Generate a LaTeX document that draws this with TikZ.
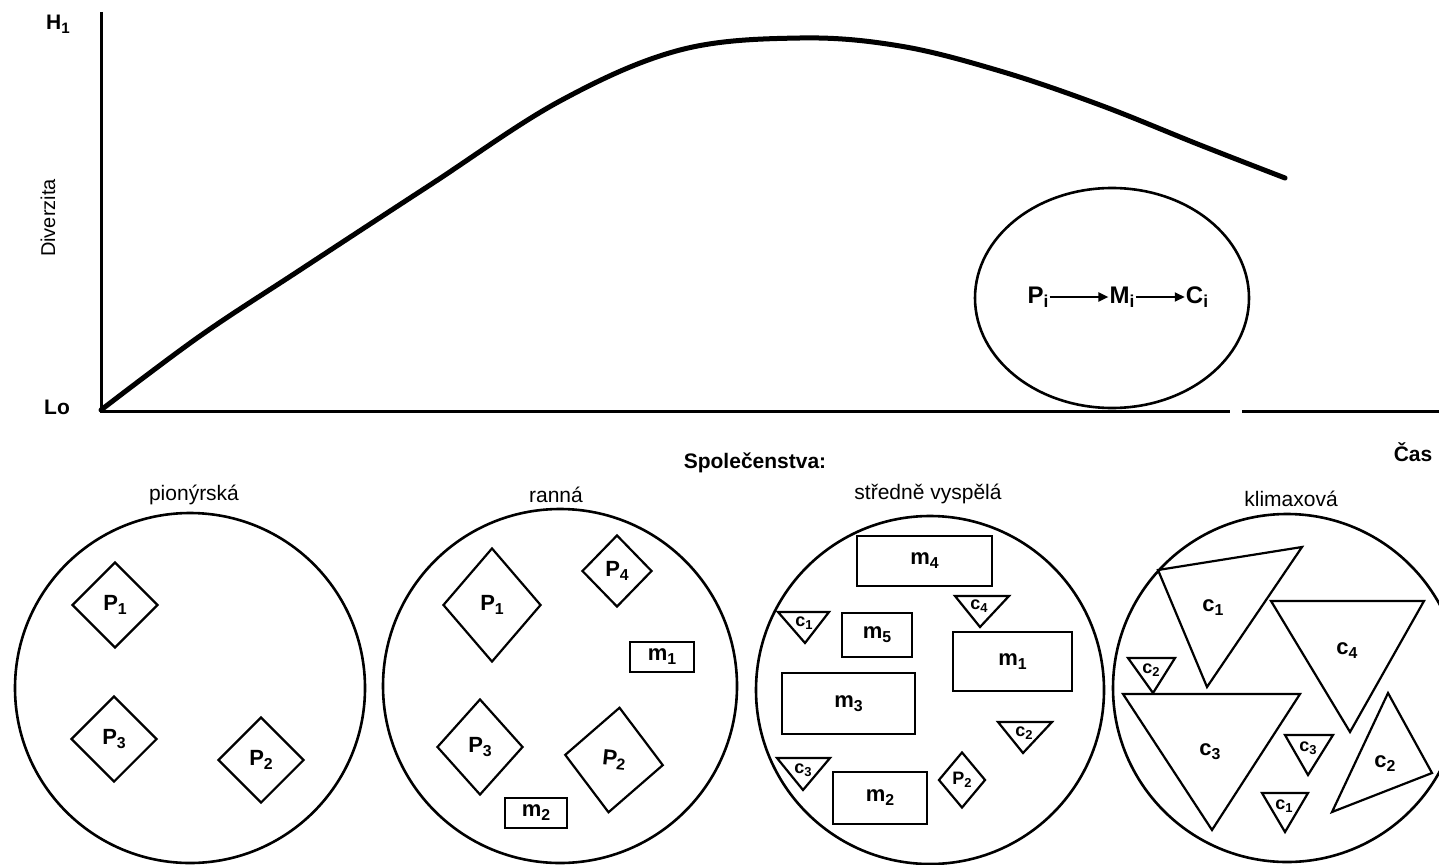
\documentclass[tikz,border=0pt]{standalone}
\usepackage{graphicx}
\usepackage{fontspec}
\setmainfont{Liberation Sans}
\usetikzlibrary{arrows.meta,shapes.geometric}
\newcommand{\lsub}[1]{\raisebox{-0.35ex}{\scalebox{0.72}{#1}}}
\begin{document}
\begin{tikzpicture}[x=1pt,y=-1pt,
  axis/.style={line width=3pt},
  ring/.style={draw,line width=2.6pt},
  shp/.style={draw,line width=2.2pt,line join=miter},
  dia/.style={shape=diamond,draw,line width=2.2pt,inner sep=0pt,font=\bfseries\fontsize{22}{22}\selectfont},
  box/.style={shape=rectangle,draw,line width=2.2pt,inner sep=0pt,font=\bfseries\fontsize{22}{22}\selectfont},
  lbl/.style={font=\bfseries\fontsize{22}{22}\selectfont,inner sep=0pt},
  slbl/.style={font=\bfseries\fontsize{18}{18}\selectfont,inner sep=0pt},
  captext/.style={font=\fontsize{21}{22}\selectfont,inner sep=0pt},
  flow/.style={line width=2pt,-{Triangle[length=10pt,width=9pt]}}
]
\useasboundingbox (0,0) rectangle (1439,864);
% axes
\coordinate (O) at (101,411);
\coordinate (Ytop) at (101,12);
\coordinate (Xgap1) at (1230,411);
\coordinate (Xgap2) at (1242,411);
\coordinate (Xend) at (1439,411);
\draw[axis] (Ytop) -- (O) -- (Xgap1);
\draw[axis] (Xgap2) -- (Xend);
\node[font=\bfseries\fontsize{21}{21}\selectfont] (hi) at (58,24) {H\lsub{1}};
\node[font=\bfseries\fontsize{21}{21}\selectfont] (lo) at (57,407) {Lo};
\node[font=\fontsize{20}{20}\selectfont,rotate=90] (div) at (48,218) {Diverzita};
\node[font=\bfseries\fontsize{21}{21}\selectfont] (cas) at (1413,452) {Čas};
% curve
\draw[line width=5pt,line cap=round] plot[smooth,tension=0.6] coordinates {(101,410) (200,336) (300,270) (430,185) (560,101) (680,50) (800,38) (900,46) (1000,71) (1100,105) (1200,145) (1285,178)};
% ellipse
\draw[line width=2.6pt] (1112,298) ellipse [x radius=137, y radius=110];
\node[font=\bfseries\fontsize{24}{24}\selectfont,inner sep=1pt] (Pi) at (1038,297) {P\lsub{i}};
\node[font=\bfseries\fontsize{24}{24}\selectfont,inner sep=1pt] (Mi) at (1122,297) {M\lsub{i}};
\node[font=\bfseries\fontsize{24}{24}\selectfont,inner sep=1pt] (Ci) at (1197,297) {C\lsub{i}};
\draw[flow] (Pi) -- (Mi);
\draw[flow] (Mi) -- (Ci);
% titles
\node[captext,font=\bfseries\fontsize{21}{22}\selectfont] (spol) at (755,463) {Společenstva:};
\node[captext] (t1) at (194,495) {pionýrská};
\node[captext] (t2) at (556,495) {ranná};
\node[captext] (t3) at (928,494) {středně vyspělá};
\node[captext] (t4) at (1291,499) {klimaxová};
% circle 1
\draw[ring] (190,688) circle (175);
\node[dia,minimum width=86,minimum height=86] (a1) at (115,605) {P\lsub{1}};
\node[dia,minimum width=86,minimum height=86] (a3) at (114,739) {P\lsub{3}};
\node[dia,minimum width=86,minimum height=86] (a2) at (261,760) {P\lsub{2}};
% circle 2
\draw[ring] (560,686) circle (177);
\node[dia,minimum width=98,minimum height=114] (b1) at (492,605) {P\lsub{1}};
\node[dia,minimum width=70,minimum height=72] (b4) at (617,571) {P\lsub{4}};
\node[dia,minimum width=86,minimum height=96] (b3) at (480,747) {P\lsub{3}};
\node[dia,minimum width=99,minimum height=106,rotate=-6] (b2) at (614,760) {P\lsub{2}};
\node[box,minimum width=64,minimum height=30] (bm1) at (662,657) {m\lsub{1}};
\node[box,minimum width=62,minimum height=30] (bm2) at (536,813) {m\lsub{2}};
% circle 3
\draw[ring] (930,690) circle (174);
\node[box,minimum width=135,minimum height=50] (cm4) at (924.5,561) {m\lsub{4}};
\node[box,minimum width=70,minimum height=44] (cm5) at (877,635) {m\lsub{5}};
\node[box,minimum width=119,minimum height=59] (cm1) at (1012.5,661.5) {m\lsub{1}};
\node[box,minimum width=133,minimum height=61] (cm3) at (848.5,703.5) {m\lsub{3}};
\node[box,minimum width=94,minimum height=52] (cm2) at (880,798) {m\lsub{2}};
\node[dia,minimum width=47,minimum height=56,font=\bfseries\fontsize{18}{18}\selectfont] (cp2) at (962,780) {P\lsub{2}};
\draw[shp] (955,596) -- (1009,596) -- (980,627) -- cycle;
\node[slbl] (cc4) at (979,606) {c\lsub{4}};
\draw[shp] (778,612) -- (829,612) -- (805,643) -- cycle;
\node[slbl] (cc1) at (804,623) {c\lsub{1}};
\draw[shp] (998,722) -- (1052,722) -- (1023,753) -- cycle;
\node[slbl] (cc2) at (1024,733) {c\lsub{2}};
\draw[shp] (777,758) -- (830,758) -- (803,790) -- cycle;
\node[slbl] (cc3) at (803,770) {c\lsub{3}};
% circle 4
\draw[ring] (1287,688) circle (174);
\draw[shp] (1158,570) -- (1302,547) -- (1207,687) -- cycle;
\node[lbl] (d1) at (1213,608) {c\lsub{1}};
\draw[shp] (1271,601) -- (1424,601) -- (1350,732) -- cycle;
\node[lbl] (d4) at (1347,651) {c\lsub{4}};
\draw[shp] (1123,694) -- (1300,694) -- (1212,830) -- cycle;
\node[lbl] (d3) at (1210,752) {c\lsub{3}};
\draw[shp] (1388,693) -- (1432,773) -- (1332,812) -- cycle;
\node[lbl] (d2) at (1385,764) {c\lsub{2}};
\draw[shp] (1128,658) -- (1175,658) -- (1153,693) -- cycle;
\node[slbl] (e2) at (1151,670) {c\lsub{2}};
\draw[shp] (1285,735) -- (1333,735) -- (1308,775) -- cycle;
\node[slbl] (e3) at (1308,748) {c\lsub{3}};
\draw[shp] (1262,793) -- (1308,793) -- (1285,832) -- cycle;
\node[slbl] (e1) at (1284,806) {c\lsub{1}};
\end{tikzpicture}
\end{document}
